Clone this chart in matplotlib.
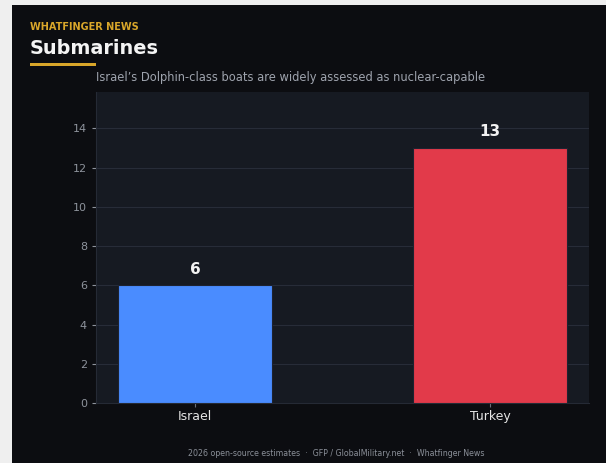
import matplotlib
matplotlib.use("Agg")
import matplotlib.pyplot as plt
from matplotlib.patches import Rectangle

# data
countries = ["Israel", "Turkey"]
submarines = [6, 13]
bar_colors = ["#4a8cff", "#e23a4a"]

fig = plt.figure(figsize=(6.06, 4.63), dpi=100, facecolor="#efefef")

# dark card behind everything
fig.patches.append(Rectangle((12 / 606, 0), 1, (463 - 5) / 463, transform=fig.transFigure,
                             facecolor="#0c0d11", edgecolor="none", zorder=-5))

ax = fig.add_axes([96 / 606, 60 / 463, 493 / 606, 311 / 463])
ax.set_facecolor("#161a22")

bars = ax.bar(range(len(countries)), submarines, width=0.52, color=bar_colors,
              edgecolor="#1d2230", linewidth=0.8, zorder=3)
for i, v in enumerate(submarines):
    ax.text(i, v + 0.45, str(v), ha="center", va="bottom", color="#f2f2f2",
            fontsize=11, fontweight="bold", zorder=4)

ax.set_ylim(0, 15.86)
ax.set_yticks(range(0, 15, 2))
ax.set_xticks(range(len(countries)))
ax.set_xticklabels(countries, fontsize=9, color="#e6e6e6")
ax.tick_params(axis="y", colors="#8e939c", labelsize=8, length=3)
ax.tick_params(axis="x", colors="#6b707a", length=3, pad=2)
for lab in ax.get_xticklabels():
    lab.set_color("#e6e6e6")
ax.grid(axis="y", color="#272c38", linewidth=0.8, zorder=0)
for s in ["top", "right"]:
    ax.spines[s].set_visible(False)
for s in ["left", "bottom"]:
    ax.spines[s].set_color("#252a35")

# header
fig.text(30 / 606, 1 - 27 / 463, "WHATFINGER NEWS", color="#d9a62a", fontsize=7,
         fontweight="bold", va="center", ha="left")
fig.text(30 / 606, 1 - 49 / 463, "Submarines", color="#f4f4f4", fontsize=13.9,
         fontweight="bold", va="center", ha="left")
fig.patches.append(Rectangle((30 / 606, 1 - 66 / 463), 66 / 606, 3 / 463, transform=fig.transFigure,
                             facecolor="#d9a62a", edgecolor="none", zorder=2))
fig.text(96 / 606, 1 - 78 / 463, "Israel\u2019s Dolphin-class boats are widely assessed as nuclear-capable",
         color="#9ea3ad", fontsize=8.3, va="center", ha="left")

# footer
fig.text(336 / 606, 1 - 453 / 463,
         "2026 open-source estimates  \u00b7  GFP / GlobalMilitary.net  \u00b7  Whatfinger News",
         color="#8a8f98", fontsize=5.7, va="center", ha="center")

fig.savefig("out.png", dpi=100, facecolor=fig.get_facecolor())
